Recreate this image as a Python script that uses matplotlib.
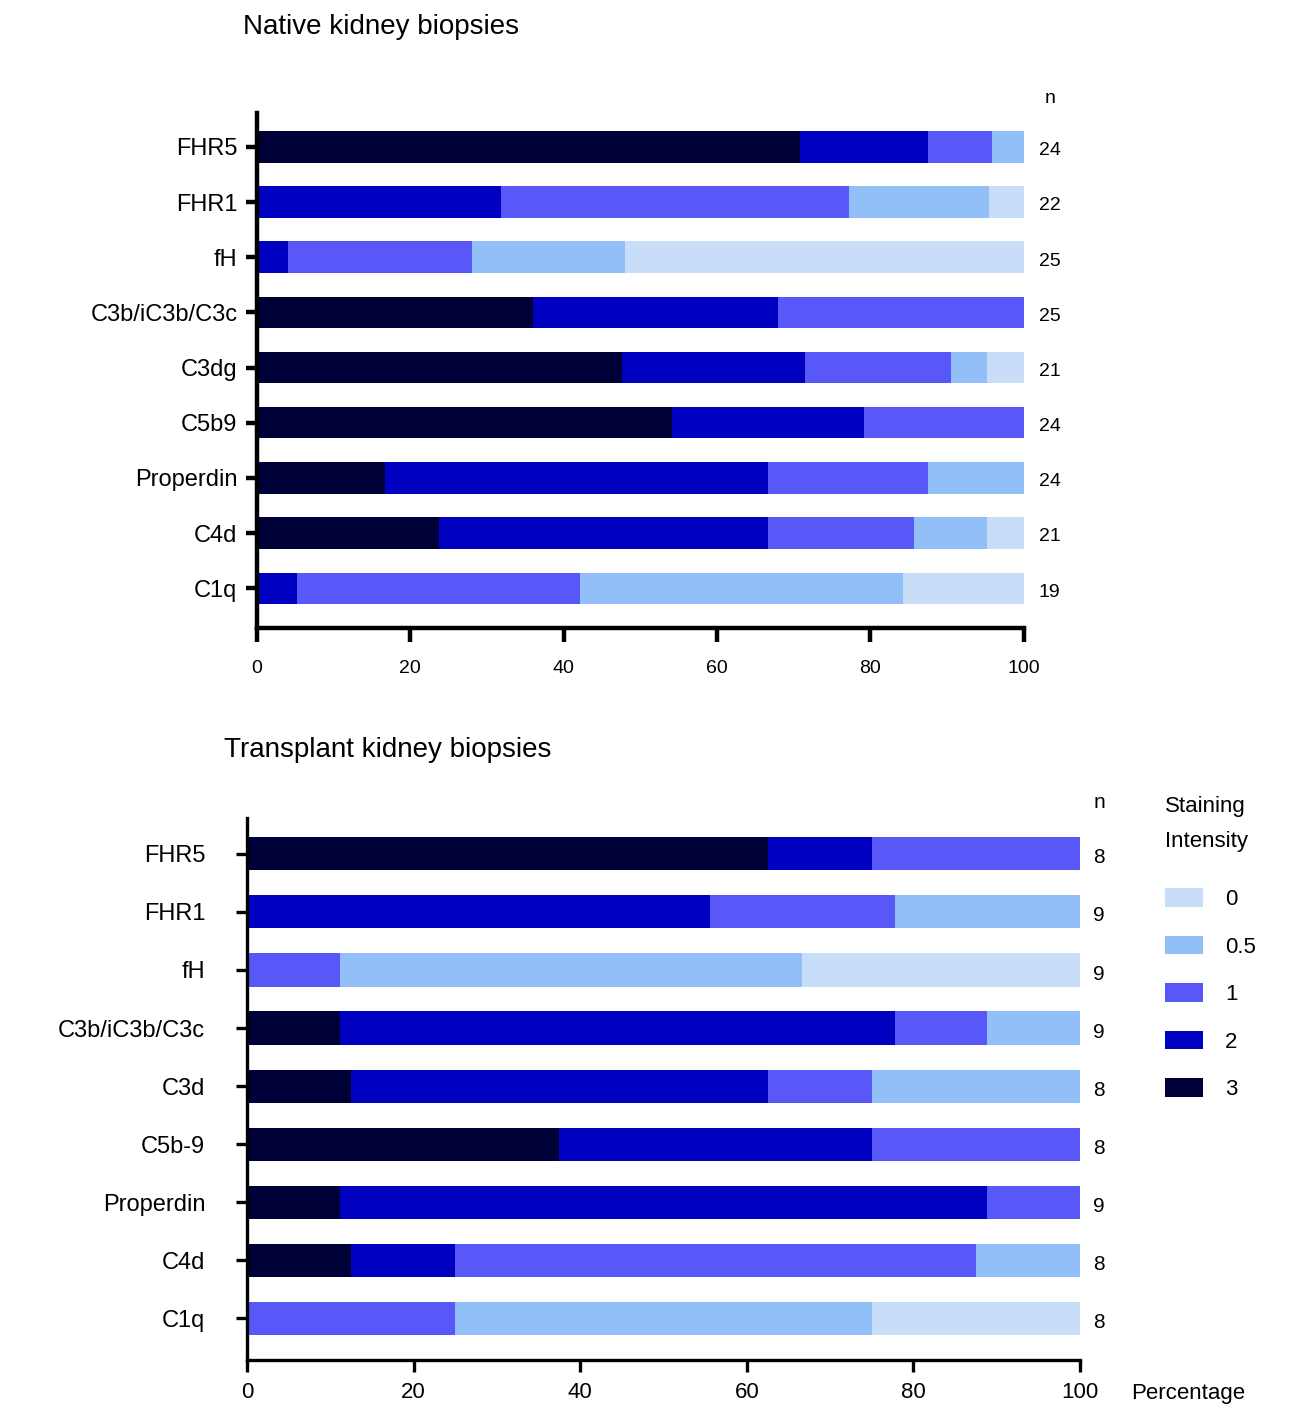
import numpy as np
import matplotlib.pyplot as plt
from matplotlib.transforms import blended_transform_factory

plt.rcParams['font.family'] = ['Liberation Sans', 'DejaVu Sans']

# staining scores, counted per marker (number of biopsies at each intensity)
intensities = ["3", "2", "1", "0.5", "0"]
colors = ["#000038", "#0000c0", "#5858f8", "#92bff8", "#c8ddf8"]

native_markers = ["FHR5", "FHR1", "fH", "C3b/iC3b/C3c", "C3dg", "C5b9",
                  "Properdin", "C4d", "C1q"]
native_3 = [17, 0, 0, 9, 10, 13, 4, 5, 0]
native_2 = [4, 7, 1, 8, 5, 6, 12, 9, 1]
native_1 = [2, 10, 6, 8, 4, 5, 5, 4, 7]
native_05 = [1, 4, 5, 0, 1, 0, 3, 2, 8]
native_0 = [0, 1, 13, 0, 1, 0, 0, 1, 3]

tx_markers = ["FHR5", "FHR1", "fH", "C3b/iC3b/C3c", "C3d", "C5b-9",
              "Properdin", "C4d", "C1q"]
tx_3 = [5, 0, 0, 1, 1, 3, 1, 1, 0]
tx_2 = [1, 5, 0, 6, 4, 3, 7, 1, 0]
tx_1 = [2, 2, 1, 1, 1, 2, 1, 5, 2]
tx_05 = [0, 2, 5, 1, 2, 0, 0, 1, 4]
tx_0 = [0, 0, 3, 0, 0, 0, 0, 0, 2]


def stacked_panel(ax, markers, groups, lw, tick_fs, lab_fs, n_fs, n_x, pad,
                  xlen, xpad):
    counts = np.array(groups, dtype=float)
    n = counts.sum(axis=0)
    pct = counts / n * 100
    y = np.arange(len(markers))
    left = np.zeros(len(markers))
    bars = []
    for vals, c, lab in zip(pct, colors, intensities):
        b = ax.barh(y, vals, left=left, height=0.57, color=c, label=lab)
        bars.append(b)
        left += vals

    ax.set_xlim(0, 100)
    ax.set_ylim(len(markers) - 0.28, -0.62)
    ax.set_yticks(y)
    ax.set_yticklabels(markers, fontsize=lab_fs)
    ax.set_xticks(np.arange(0, 101, 20))
    ax.tick_params(axis='x', labelsize=tick_fs, width=lw, length=xlen, pad=xpad)
    ax.tick_params(axis='y', width=lw, length=8, pad=pad)
    for s in ['top', 'right']:
        ax.spines[s].set_visible(False)
    for s in ['left', 'bottom']:
        ax.spines[s].set_linewidth(lw)

    # sample size column to the right of each bar
    tr = blended_transform_factory(ax.transAxes, ax.transData)
    ax.text(n_x, -0.88, "n", transform=tr, ha='center', va='center', fontsize=n_fs)
    for yi, ni in zip(y, n):
        ax.text(n_x, yi + 0.07, f"{int(ni)}", transform=tr, ha='center',
                va='center', fontsize=n_fs)
    return bars


fig = plt.figure(figsize=(13.04, 14.08), dpi=100)

ax1 = fig.add_axes([0.197, 0.554, 0.588, 0.366])
stacked_panel(ax1, native_markers,
              [native_3, native_2, native_1, native_05, native_0],
              lw=3.2, tick_fs=14, lab_fs=17, n_fs=14, n_x=1.034, pad=6,
              xlen=10, xpad=13)
fig.text(0.186, 0.981, "Native kidney biopsies", fontsize=20, va='center')

ax2 = fig.add_axes([0.1894, 0.0341, 0.6388, 0.385])
bars = stacked_panel(ax2, tx_markers,
                     [tx_3, tx_2, tx_1, tx_05, tx_0],
                     lw=2.4, tick_fs=16, lab_fs=17, n_fs=15, n_x=1.023, pad=22,
                     xlen=8.5, xpad=7)
fig.text(0.172, 0.467, "Transplant kidney biopsies", fontsize=20, va='center')

ax2.set_xlabel("Percentage", fontsize=16, ha='left', va='center')
ax2.xaxis.set_label_coords(1.062, -0.061)

leg = fig.legend(handles=bars[::-1], loc='upper left',
                 bbox_to_anchor=(0.878, 0.449), frameon=False,
                 title="Staining\nIntensity", title_fontsize=16, fontsize=16,
                 alignment='left', handlelength=1.7, handleheight=0.9,
                 labelspacing=1.15, handletextpad=1.0)
leg.get_title().set_linespacing(1.9)
leg._legend_box.sep = 26

fig.savefig("out.png", dpi=100)
